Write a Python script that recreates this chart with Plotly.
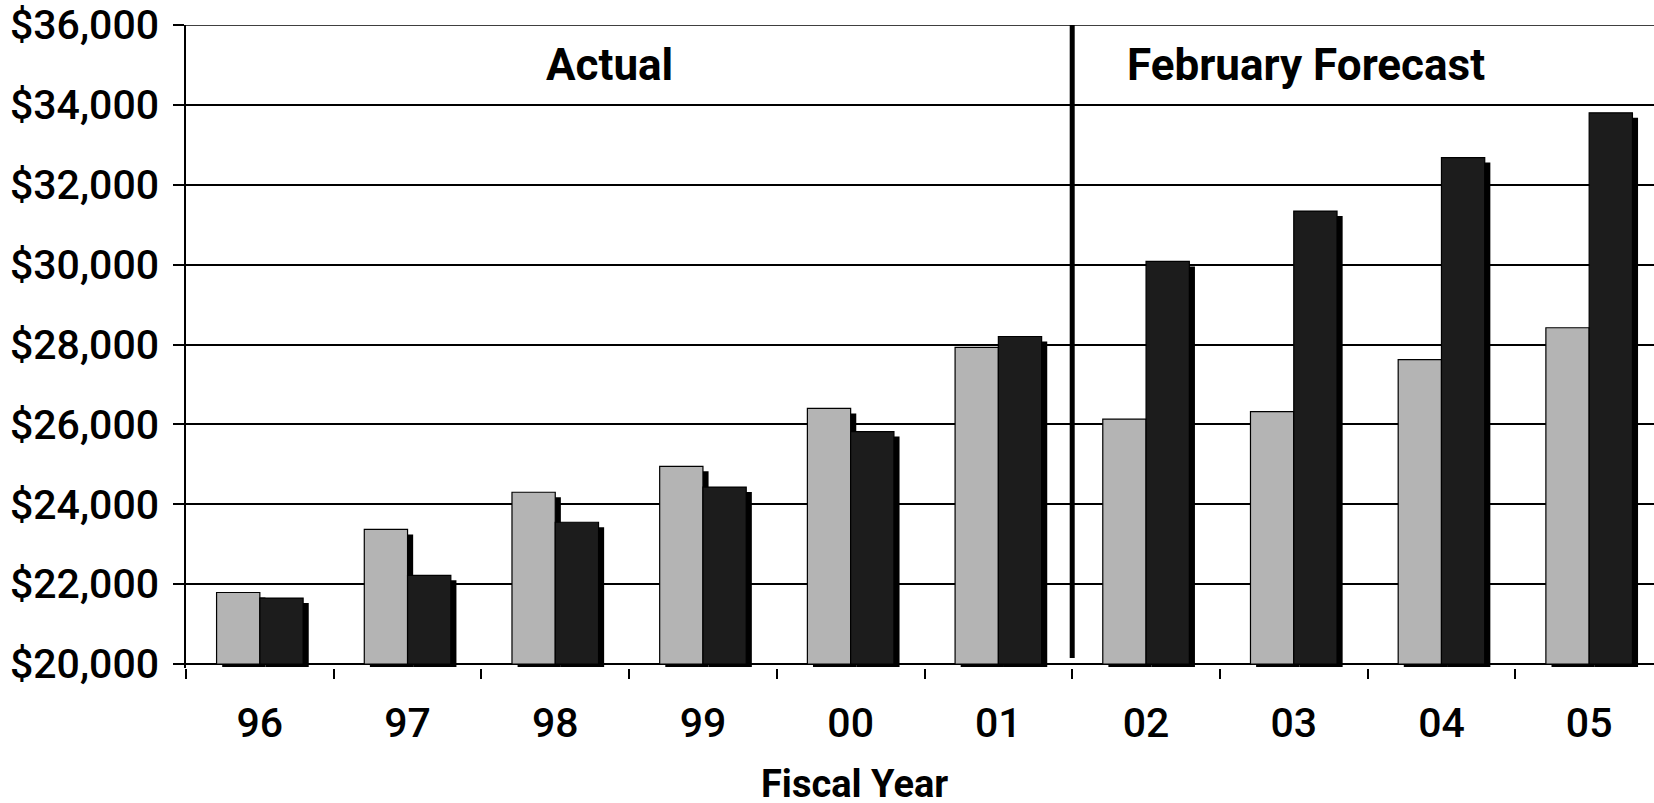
import plotly.graph_objects as go

# ---- data ----
years = ["96", "97", "98", "99", "00", "01", "02", "03", "04", "05"]
series_light = [21790, 23370, 24300, 24950, 26400, 27930, 26130, 26320, 27620, 28420]
series_dark = [21650, 22220, 23550, 24430, 25820, 28200, 30080, 31340, 32680, 33800]
y_tick_vals = [20000, 22000, 24000, 26000, 28000, 30000, 32000, 34000, 36000]
y_tick_text = ["$20,000", "$22,000", "$24,000", "$26,000", "$28,000",
               "$30,000", "$32,000", "$34,000", "$36,000"]
section_labels = ["Actual", "February Forecast"]
x_title = "Fiscal Year"

# ---- style / geometry ----
FONT = "Roboto"
TICK_WEIGHT = 500
TITLE_WEIGHT = 700
BASE = 20000
W = 0.293            # bar width (category units)
SH_DX = 0.038        # shadow offset right (category units)
SH_DY = 125          # shadow offset down (value units)
SH_BASE = BASE - 75  # shadow shows slightly under the baseline
LIGHT = "#b4b4b4"
DARK = "#1c1c1c"

fig = go.Figure()

# shadows
fig.add_trace(go.Bar(x=years, y=[v - SH_DY - SH_BASE for v in series_light], base=SH_BASE,
                     width=W, offset=-W + SH_DX, marker=dict(color="black", line=dict(width=0)),
                     showlegend=False, hoverinfo="skip"))
fig.add_trace(go.Bar(x=years, y=[v - SH_DY - SH_BASE for v in series_dark], base=SH_BASE,
                     width=W, offset=SH_DX, marker=dict(color="black", line=dict(width=0)),
                     showlegend=False, hoverinfo="skip"))
# main bars
fig.add_trace(go.Bar(x=years, y=[v - BASE for v in series_light], base=BASE,
                     width=W, offset=-W, marker=dict(color=LIGHT, line=dict(color="black", width=1.2)),
                     showlegend=False))
fig.add_trace(go.Bar(x=years, y=[v - BASE for v in series_dark], base=BASE,
                     width=W, offset=0, marker=dict(color=DARK, line=dict(color="black", width=1.2)),
                     showlegend=False))

fig.update_layout(
    width=1654, height=803,
    margin=dict(l=186, r=0, t=25, b=135),
    paper_bgcolor="white", plot_bgcolor="white",
    barmode="overlay",
    font=dict(family=FONT, color="black"),
    xaxis=dict(
        type="category",
        range=[-0.5, 9.439],
        showgrid=False, showline=False, zeroline=False,
        ticks="outside", tickson="boundaries", ticklen=10, tickwidth=1.5, tickcolor="black",
        tickfont=dict(family=FONT, size=41, color="black", weight=TICK_WEIGHT),
        ticklabelstandoff=27,
    ),
    yaxis=dict(
        range=[19900, 36000],
        tickvals=y_tick_vals, ticktext=y_tick_text,
        showgrid=True, gridcolor="black", gridwidth=1.6,
        showline=True, linecolor="black", linewidth=1.6,
        zeroline=False,
        ticks="outside", ticklen=11, tickwidth=1.5, tickcolor="black",
        tickfont=dict(family=FONT, size=41, color="black", weight=TICK_WEIGHT),
        ticklabelstandoff=6,
    ),
    shapes=[
        dict(type="line", xref="paper", yref="y", x0=0, x1=1, y0=36000, y1=36000,
             line=dict(color="black", width=1.6)),
        dict(type="line", xref="x", yref="y", x0=5.5, x1=5.5, y0=20150, y1=36000,
             line=dict(color="black", width=5)),
    ],
    annotations=[
        dict(text=section_labels[0], xref="paper", yref="paper", x=0.2883, y=0.9378,
             xanchor="center", yanchor="middle", showarrow=False,
             font=dict(family=FONT, size=44, color="black", weight=TITLE_WEIGHT)),
        dict(text=section_labels[1], xref="paper", yref="paper", x=0.7632, y=0.9378,
             xanchor="center", yanchor="middle", showarrow=False,
             font=dict(family=FONT, size=44, color="black", weight=TITLE_WEIGHT)),
        dict(text=x_title, xref="paper", yref="paper", x=0.4554, y=-0.180,
             xanchor="center", yanchor="middle", showarrow=False,
             font=dict(family=FONT, size=38, color="black", weight=TITLE_WEIGHT)),
    ],
)

fig.write_html("out.html")
